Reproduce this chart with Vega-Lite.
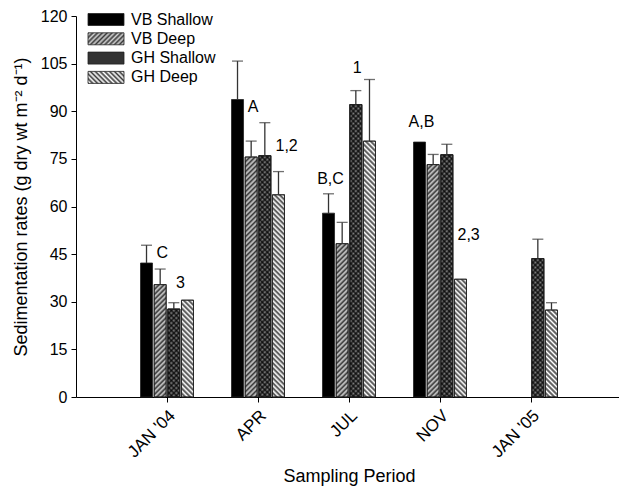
{
  "$schema": "https://vega.github.io/schema/vega-lite/v6.json",
  "autosize": "none",
  "padding": {"left": 76, "top": 16, "right": 0, "bottom": 90},
  "width": 546,
  "height": 381,
  "params": [
    {"name": "gA", "value": {"gradient":"linear","x1":0,"y1":0,"x2":1.2,"y2":0.4,"stops":[
                {"offset":0,"color":"#3c3c3c"},{"offset":0.05,"color":"#d0d0d0"},{"offset":0.1,"color":"#3c3c3c"},{"offset":0.15,"color":"#d0d0d0"},{"offset":0.2,"color":"#3c3c3c"},{"offset":0.25,"color":"#d0d0d0"},{"offset":0.3,"color":"#3c3c3c"},{"offset":0.35,"color":"#d0d0d0"},{"offset":0.4,"color":"#3c3c3c"},{"offset":0.45,"color":"#d0d0d0"},{"offset":0.5,"color":"#3c3c3c"},{"offset":0.55,"color":"#d0d0d0"},{"offset":0.6,"color":"#3c3c3c"},{"offset":0.65,"color":"#d0d0d0"},{"offset":0.7,"color":"#3c3c3c"},{"offset":0.75,"color":"#d0d0d0"},{"offset":0.8,"color":"#3c3c3c"},{"offset":0.85,"color":"#d0d0d0"},{"offset":0.9,"color":"#3c3c3c"},{"offset":0.95,"color":"#d0d0d0"},{"offset":1,"color":"#3c3c3c"}]}},
    {"name": "gB", "value": {"gradient":"linear","x1":1,"y1":0,"x2":-0.2,"y2":0.4,"stops":[
                {"offset":0,"color":"#3c3c3c"},{"offset":0.05,"color":"#ffffff"},{"offset":0.1,"color":"#3c3c3c"},{"offset":0.15,"color":"#ffffff"},{"offset":0.2,"color":"#3c3c3c"},{"offset":0.25,"color":"#ffffff"},{"offset":0.3,"color":"#3c3c3c"},{"offset":0.35,"color":"#ffffff"},{"offset":0.4,"color":"#3c3c3c"},{"offset":0.45,"color":"#ffffff"},{"offset":0.5,"color":"#3c3c3c"},{"offset":0.55,"color":"#ffffff"},{"offset":0.6,"color":"#3c3c3c"},{"offset":0.65,"color":"#ffffff"},{"offset":0.7,"color":"#3c3c3c"},{"offset":0.75,"color":"#ffffff"},{"offset":0.8,"color":"#3c3c3c"},{"offset":0.85,"color":"#ffffff"},{"offset":0.9,"color":"#3c3c3c"},{"offset":0.95,"color":"#ffffff"},{"offset":1,"color":"#3c3c3c"}]}},
    {"name": "stp", "value": [
      {"offset":0,"color":"rgba(0,0,0,0.75)"},{"offset":0.0078,"color":"rgba(0,0,0,0)"},
      {"offset":0.0156,"color":"rgba(0,0,0,0.75)"},{"offset":0.0234,"color":"rgba(0,0,0,0)"},
      {"offset":0.0313,"color":"rgba(0,0,0,0.75)"},{"offset":0.0391,"color":"rgba(0,0,0,0)"},
      {"offset":0.0469,"color":"rgba(0,0,0,0.75)"},{"offset":0.0547,"color":"rgba(0,0,0,0)"},
      {"offset":0.0625,"color":"rgba(0,0,0,0.75)"},{"offset":0.0703,"color":"rgba(0,0,0,0)"},
      {"offset":0.0781,"color":"rgba(0,0,0,0.75)"},{"offset":0.0859,"color":"rgba(0,0,0,0)"},
      {"offset":0.0938,"color":"rgba(0,0,0,0.75)"},{"offset":0.1016,"color":"rgba(0,0,0,0)"},
      {"offset":0.1094,"color":"rgba(0,0,0,0.75)"},{"offset":0.1172,"color":"rgba(0,0,0,0)"},
      {"offset":0.125,"color":"rgba(0,0,0,0.75)"},{"offset":0.1328,"color":"rgba(0,0,0,0)"},
      {"offset":0.1406,"color":"rgba(0,0,0,0.75)"},{"offset":0.1484,"color":"rgba(0,0,0,0)"},
      {"offset":0.1563,"color":"rgba(0,0,0,0.75)"},{"offset":0.1641,"color":"rgba(0,0,0,0)"},
      {"offset":0.1719,"color":"rgba(0,0,0,0.75)"},{"offset":0.1797,"color":"rgba(0,0,0,0)"},
      {"offset":0.1875,"color":"rgba(0,0,0,0.75)"},{"offset":0.1953,"color":"rgba(0,0,0,0)"},
      {"offset":0.2031,"color":"rgba(0,0,0,0.75)"},{"offset":0.2109,"color":"rgba(0,0,0,0)"},
      {"offset":0.2188,"color":"rgba(0,0,0,0.75)"},{"offset":0.2266,"color":"rgba(0,0,0,0)"},
      {"offset":0.2344,"color":"rgba(0,0,0,0.75)"},{"offset":0.2422,"color":"rgba(0,0,0,0)"},
      {"offset":0.25,"color":"rgba(0,0,0,0.75)"},{"offset":0.2578,"color":"rgba(0,0,0,0)"},
      {"offset":0.2656,"color":"rgba(0,0,0,0.75)"},{"offset":0.2734,"color":"rgba(0,0,0,0)"},
      {"offset":0.2813,"color":"rgba(0,0,0,0.75)"},{"offset":0.2891,"color":"rgba(0,0,0,0)"},
      {"offset":0.2969,"color":"rgba(0,0,0,0.75)"},{"offset":0.3047,"color":"rgba(0,0,0,0)"},
      {"offset":0.3125,"color":"rgba(0,0,0,0.75)"},{"offset":0.3203,"color":"rgba(0,0,0,0)"},
      {"offset":0.3281,"color":"rgba(0,0,0,0.75)"},{"offset":0.3359,"color":"rgba(0,0,0,0)"},
      {"offset":0.3438,"color":"rgba(0,0,0,0.75)"},{"offset":0.3516,"color":"rgba(0,0,0,0)"},
      {"offset":0.3594,"color":"rgba(0,0,0,0.75)"},{"offset":0.3672,"color":"rgba(0,0,0,0)"},
      {"offset":0.375,"color":"rgba(0,0,0,0.75)"},{"offset":0.3828,"color":"rgba(0,0,0,0)"},
      {"offset":0.3906,"color":"rgba(0,0,0,0.75)"},{"offset":0.3984,"color":"rgba(0,0,0,0)"},
      {"offset":0.4063,"color":"rgba(0,0,0,0.75)"},{"offset":0.4141,"color":"rgba(0,0,0,0)"},
      {"offset":0.4219,"color":"rgba(0,0,0,0.75)"},{"offset":0.4297,"color":"rgba(0,0,0,0)"},
      {"offset":0.4375,"color":"rgba(0,0,0,0.75)"},{"offset":0.4453,"color":"rgba(0,0,0,0)"},
      {"offset":0.4531,"color":"rgba(0,0,0,0.75)"},{"offset":0.4609,"color":"rgba(0,0,0,0)"},
      {"offset":0.4688,"color":"rgba(0,0,0,0.75)"},{"offset":0.4766,"color":"rgba(0,0,0,0)"},
      {"offset":0.4844,"color":"rgba(0,0,0,0.75)"},{"offset":0.4922,"color":"rgba(0,0,0,0)"},
      {"offset":0.5,"color":"rgba(0,0,0,0.75)"},{"offset":0.5078,"color":"rgba(0,0,0,0)"},
      {"offset":0.5156,"color":"rgba(0,0,0,0.75)"},{"offset":0.5234,"color":"rgba(0,0,0,0)"},
      {"offset":0.5313,"color":"rgba(0,0,0,0.75)"},{"offset":0.5391,"color":"rgba(0,0,0,0)"},
      {"offset":0.5469,"color":"rgba(0,0,0,0.75)"},{"offset":0.5547,"color":"rgba(0,0,0,0)"},
      {"offset":0.5625,"color":"rgba(0,0,0,0.75)"},{"offset":0.5703,"color":"rgba(0,0,0,0)"},
      {"offset":0.5781,"color":"rgba(0,0,0,0.75)"},{"offset":0.5859,"color":"rgba(0,0,0,0)"},
      {"offset":0.5938,"color":"rgba(0,0,0,0.75)"},{"offset":0.6016,"color":"rgba(0,0,0,0)"},
      {"offset":0.6094,"color":"rgba(0,0,0,0.75)"},{"offset":0.6172,"color":"rgba(0,0,0,0)"},
      {"offset":0.625,"color":"rgba(0,0,0,0.75)"},{"offset":0.6328,"color":"rgba(0,0,0,0)"},
      {"offset":0.6406,"color":"rgba(0,0,0,0.75)"},{"offset":0.6484,"color":"rgba(0,0,0,0)"},
      {"offset":0.6563,"color":"rgba(0,0,0,0.75)"},{"offset":0.6641,"color":"rgba(0,0,0,0)"},
      {"offset":0.6719,"color":"rgba(0,0,0,0.75)"},{"offset":0.6797,"color":"rgba(0,0,0,0)"},
      {"offset":0.6875,"color":"rgba(0,0,0,0.75)"},{"offset":0.6953,"color":"rgba(0,0,0,0)"},
      {"offset":0.7031,"color":"rgba(0,0,0,0.75)"},{"offset":0.7109,"color":"rgba(0,0,0,0)"},
      {"offset":0.7188,"color":"rgba(0,0,0,0.75)"},{"offset":0.7266,"color":"rgba(0,0,0,0)"},
      {"offset":0.7344,"color":"rgba(0,0,0,0.75)"},{"offset":0.7422,"color":"rgba(0,0,0,0)"},
      {"offset":0.75,"color":"rgba(0,0,0,0.75)"},{"offset":0.7578,"color":"rgba(0,0,0,0)"},
      {"offset":0.7656,"color":"rgba(0,0,0,0.75)"},{"offset":0.7734,"color":"rgba(0,0,0,0)"},
      {"offset":0.7813,"color":"rgba(0,0,0,0.75)"},{"offset":0.7891,"color":"rgba(0,0,0,0)"},
      {"offset":0.7969,"color":"rgba(0,0,0,0.75)"},{"offset":0.8047,"color":"rgba(0,0,0,0)"},
      {"offset":0.8125,"color":"rgba(0,0,0,0.75)"},{"offset":0.8203,"color":"rgba(0,0,0,0)"},
      {"offset":0.8281,"color":"rgba(0,0,0,0.75)"},{"offset":0.8359,"color":"rgba(0,0,0,0)"},
      {"offset":0.8438,"color":"rgba(0,0,0,0.75)"},{"offset":0.8516,"color":"rgba(0,0,0,0)"},
      {"offset":0.8594,"color":"rgba(0,0,0,0.75)"},{"offset":0.8672,"color":"rgba(0,0,0,0)"},
      {"offset":0.875,"color":"rgba(0,0,0,0.75)"},{"offset":0.8828,"color":"rgba(0,0,0,0)"},
      {"offset":0.8906,"color":"rgba(0,0,0,0.75)"},{"offset":0.8984,"color":"rgba(0,0,0,0)"},
      {"offset":0.9063,"color":"rgba(0,0,0,0.75)"},{"offset":0.9141,"color":"rgba(0,0,0,0)"},
      {"offset":0.9219,"color":"rgba(0,0,0,0.75)"},{"offset":0.9297,"color":"rgba(0,0,0,0)"},
      {"offset":0.9375,"color":"rgba(0,0,0,0.75)"},{"offset":0.9453,"color":"rgba(0,0,0,0)"},
      {"offset":0.9531,"color":"rgba(0,0,0,0.75)"},{"offset":0.9609,"color":"rgba(0,0,0,0)"},
      {"offset":0.9688,"color":"rgba(0,0,0,0.75)"},{"offset":0.9766,"color":"rgba(0,0,0,0)"},
      {"offset":0.9844,"color":"rgba(0,0,0,0.75)"},{"offset":0.9922,"color":"rgba(0,0,0,0)"},
      {"offset":1,"color":"rgba(0,0,0,0.75)"}
    ]}
  ],
  "data": {"values": [
    {"period":"JAN '04","series":"VB Shallow","value":42.2,"hi":47.8},
    {"period":"JAN '04","series":"VB Deep","value":35.4,"hi":40.3},
    {"period":"JAN '04","series":"GH Shallow","value":27.7,"hi":29.7},
    {"period":"JAN '04","series":"GH Deep","value":30.5,"hi":null},
    {"period":"APR","series":"VB Shallow","value":93.7,"hi":105.8},
    {"period":"APR","series":"VB Deep","value":75.6,"hi":80.6},
    {"period":"APR","series":"GH Shallow","value":76.0,"hi":86.4},
    {"period":"APR","series":"GH Deep","value":63.7,"hi":71.0},
    {"period":"JUL","series":"VB Shallow","value":57.9,"hi":64.0},
    {"period":"JUL","series":"VB Deep","value":48.3,"hi":55.0},
    {"period":"JUL","series":"GH Shallow","value":92.1,"hi":96.5},
    {"period":"JUL","series":"GH Deep","value":80.6,"hi":100.0},
    {"period":"NOV","series":"VB Shallow","value":80.3,"hi":null},
    {"period":"NOV","series":"VB Deep","value":73.2,"hi":76.4},
    {"period":"NOV","series":"GH Shallow","value":76.3,"hi":79.6},
    {"period":"NOV","series":"GH Deep","value":37.1,"hi":null},
    {"period":"JAN '05","series":"GH Shallow","value":43.6,"hi":49.7},
    {"period":"JAN '05","series":"GH Deep","value":27.4,"hi":29.7}
  ]},
  "encoding": {
    "x": {"field":"period","type":"nominal","sort":["JAN '04","APR","JUL","NOV","JAN '05"],
      "scale":{"domain":["JAN '04","APR","JUL","NOV","JAN '05"],"paddingInner":0.4176,"paddingOuter":0.7088},
      "title":"Sampling Period",
      "axis":{"labelAngle":-45,"labelAlign":"right","labelBaseline":"top","labelPadding":5,"labelFontSize":17,"titlePadding":7}},
    "xOffset": {"field":"series","type":"nominal","sort":["VB Shallow","VB Deep","GH Shallow","GH Deep"],
      "scale":{"domain":["VB Shallow","VB Deep","GH Shallow","GH Deep"],"paddingInner":0.12,"paddingOuter":0}},
    "y": {"field":"value","type":"quantitative","scale":{"domain":[0,120],"nice":false},
      "title":"Sedimentation rates (g dry wt m⁻² d⁻¹)",
      "axis":{"values":[0,15,30,45,60,75,90,105,120],"labelPadding":4,"titlePadding":10}}
  },
  "layer": [
    {
      "mark": {"type":"bar","strokeWidth":0},
      "encoding": {
        "y": {"datum": 0},
        "fill": {"field":"series","type":"nominal",
          "scale":{"domain":["VB Shallow","VB Deep","GH Shallow","GH Deep"],
            "range":["#000000", {"expr":"gA"}, "#333333", {"expr":"gB"}]},
          "legend": {"title": null, "orient":"none","legendX":22,"legendY":-4.5,"padding":0,
            "symbolType":"M-3,-1H3V1H-3Z","symbolSize":144,"symbolStrokeColor":"#222","symbolStrokeWidth":0.8,
            "labelFontSize":16,"labelFont":"Liberation Sans","labelColor":"#000","labelOffset":17,"rowPadding":3.3,"labelLimit":0}
        }
      }
    },
    {
      "mark": {"type":"bar","stroke":"#222","strokeWidth":0.8},
      "encoding": {
        "fill": {"value": {"expr": "datum.series === 'VB Shallow' ? '#000000' : datum.series === 'VB Deep' ? '#d0d0d0' : datum.series === 'GH Shallow' ? '#888888' : '#ffffff'"}}
      }
    },
    {
      "transform": [{"filter": "datum.series === 'VB Deep' || datum.series === 'GH Shallow'"}],
      "mark": {"type":"bar","stroke":"#222","strokeWidth":0.8},
      "encoding": {
        "fill": {"value": {"expr": "{gradient: 'linear', x1: 0, y1: 0, x2: 320*bandwidth('xOffset')/(pow(bandwidth('xOffset'),2)+pow(scale('y',0)-scale('y',datum.value),2)), y2: 320*(scale('y',0)-scale('y',datum.value))/(pow(bandwidth('xOffset'),2)+pow(scale('y',0)-scale('y',datum.value),2)), stops: stp}"}}
      }
    },
    {
      "transform": [{"filter": "datum.series === 'GH Deep' || datum.series === 'GH Shallow'"}],
      "mark": {"type":"bar","stroke":"#222","strokeWidth":0.8},
      "encoding": {
        "fill": {"value": {"expr": "{gradient: 'linear', x1: 1, y1: 0, x2: 1-320*bandwidth('xOffset')/(pow(bandwidth('xOffset'),2)+pow(scale('y',0)-scale('y',datum.value),2)), y2: 320*(scale('y',0)-scale('y',datum.value))/(pow(bandwidth('xOffset'),2)+pow(scale('y',0)-scale('y',datum.value),2)), stops: stp}"}}
      }
    },
    {
      "transform": [{"filter": "isValid(datum.hi)"}],
      "mark": {"type":"rule","color":"#333333","strokeWidth":1.3},
      "encoding": {"y2": {"field":"hi"}}
    },
    {
      "transform": [{"filter": "isValid(datum.hi)"}],
      "mark": {"type":"tick","orient":"horizontal","size":11,"thickness":1.3,"color":"#333333"},
      "encoding": {"y": {"field":"hi","type":"quantitative","title":"Sedimentation rates (g dry wt m⁻² d⁻¹)"}}
    },
    {
      "data": {"values": [
        {"period":"JAN '04","series":"VB Deep","value":45.3,"label":"C"},
        {"period":"APR","series":"VB Deep","value":91.3,"label":"A"},
        {"period":"JUL","series":"VB Shallow","value":68.8,"label":"B,C"},
        {"period":"NOV","series":"VB Shallow","value":86.5,"label":"A,B"}
      ]},
      "mark": {"type":"text","fontSize":16,"align":"center","baseline":"middle","dx":2,"color":"#000"},
      "encoding": {"text": {"field":"label"}}
    },
    {
      "data": {"values": [
        {"period":"APR","series":"GH Deep","value":78.9,"label":"1,2"},
        {"period":"NOV","series":"GH Deep","value":50.9,"label":"2,3"},
        {"period":"JUL","series":"GH Shallow","value":103.5,"label":"1"}
      ]},
      "mark": {"type":"text","fontSize":16,"align":"left","baseline":"middle","dx":-3,"color":"#000"},
      "encoding": {"text": {"field":"label"}}
    },
    {
      "data": {"values": [
        {"period":"JAN '04","series":"GH Deep","value":35.8,"label":"3"}
      ]},
      "mark": {"type":"text","fontSize":16,"align":"center","baseline":"middle","dx":-7,"color":"#000"},
      "encoding": {"text": {"field":"label"}}
    }
  ],
  "config": {
    "font": "Liberation Sans",
    "view": {"stroke": null},
    "axis": {"labelFontSize":16,"titleFontSize":18,"labelColor":"#000","titleColor":"#000","domainColor":"#000","tickColor":"#000","titleFontWeight":"normal","grid":false,"tickSize":5,"labelFont":"Liberation Sans","titleFont":"Liberation Sans"}
  }
}
